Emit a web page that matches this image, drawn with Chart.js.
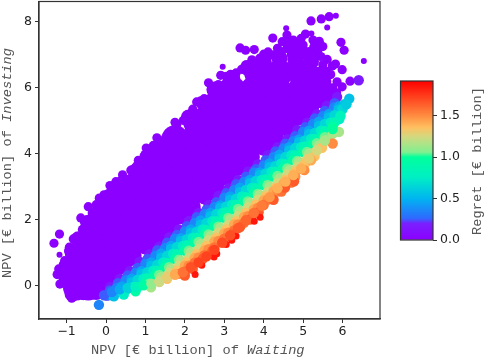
<!DOCTYPE html>
<html>
<head>
<meta charset="utf-8">
<script src="https://cdn.jsdelivr.net/npm/chart.js@4"></script>
<style>
  html,body{ margin:0; padding:0; background:#fff; }
  canvas{ position:absolute; left:0; top:0; }
</style>
</head>
<body>
<canvas id="scatter" width="484" height="357"></canvas>
<canvas id="bar" width="484" height="357"></canvas>
<script>
const xTicks = [-1,0,1,2,3,4,5,6];
const yTicks = [0,2,4,6,8];
const regretTicks = [0,0.5,1,1.5];
const regretMax = 1.92;

// colour bar stops: [regret, colour]
const colorStops = [
  [0,'#8b00ff'],[0.2,'#7a20ff'],[0.26,'#2f68ff'],[0.5,'#00b4f0'],[0.76,'#00f0c4'],
  [1.0,'#00ff9c'],[1.06,'#80f090'],[1.24,'#d0da80'],[1.36,'#ffbf60'],[1.5,'#ff8c40'],[1.92,'#ff0000']
];

// purple mass, rows of wide marks
const coreRowY = [-0.05,0.45,0.95,1.45,1.95,2.45,2.95,3.45,3.95,4.45,4.95,5.45,5.95,6.45];
const coreRowX = [
  [-0.75,-0.45],
  [-0.8,-0.25,0.03],
  [-0.55,0.05,0.5],
  [-0.35,0.25,0.85,1.03],
  [-0.15,0.45,1.05,1.53],
  [0.15,0.65,1.25,1.85,2.03],
  [0.5,0.95,1.55,2.15,2.53],
  [0.95,1.35,1.95,2.55,3.03],
  [1.35,1.85,2.45,3.05,3.53],
  [1.75,2.25,2.85,3.45,4.03],
  [2.3,2.75,3.35,3.95,4.53],
  [2.75,3.25,3.85,4.45,5.03],
  [3.2,3.75,4.35,4.95,5.3],
  [3.85,4.4,4.95]
];

// medium purple marks just inside the outline
const fillX = [0.1,0.4,0.7,1,1.3,1.6,1.9,2.2,2.5,2.8,3.1,3.4,3.7,4,4.3,4.6,4.9,5.2,5.45,
  -1,-1,-0.85,-0.7,-0.45,-0.15,0.1,0.5,0.75,1.05,1.4,1.8,2.1,2.5,2.75,3.2,3.6,4,4.4,4.8,5.2,5.45,5.55,5.65,5.3,
  -0.85,-0.55,-0.25,-0.05,0.1];
const fillY = [0.3,0.58,0.9,1.18,1.5,1.78,2.1,2.38,2.7,2.98,3.3,3.58,3.9,4.18,4.5,4.78,5.1,5.38,5.62,
  0.2,0.6,1,1.4,1.9,2.3,2.7,3.1,3.45,3.9,4.2,4.6,5.1,5.5,5.95,6.3,6.6,6.8,6.9,6.85,6.8,6.4,6,5.7,6.4,
  -0.25,-0.2,-0.2,-0.15,-0.05];

// purple marks that make up the outline and the stragglers
const edgeX = [3.4,2.91,3.16,3.44,2.6,2.49,2.3,1.96,1.79,1.29,1.02,0.82,0.63,0.42,0.1,-0.17,-0.45,-0.64,
  -1.18,-1.32,-0.93,-0.83,-1.2,-1.24,-1.17,-0.87,-0.58,5.66,5.46,5.2,4.23,4.59,5.06,
  4.47,4.91,5.41,5.96,6.04,4.72,5.27,3.54,3.76,4,4.11,4.34,4.59,5.02,5.36,5.61,5.82,5.74,5.99,6.19,5.99,5.86,
  -1.05,-1.05,-0.95,-0.72,-0.6,-0.55,-0.35,-0.25,-0.05,0.25,0.4,0.7,0.9,1.1,1.2,1.5,1.7,1.75,2.1,2.2,2.4,2.65,2.7,2.85,3.05,3.3,3.55,3.7,3.9,
  4.2,4.45,4.7,4.85,5.1,5.25,5.45,5.5,5.6,5.7,5.6,5.75,5.85,5.8,5.5,4.6,4.35,4.85,5,5.25,5.35,5.4,5.15,4.75,4.95,5];
const edgeY = [7.21,6.38,6.41,6.56,6.15,5.67,5.57,5.01,4.86,4.48,4.17,3.8,3.5,3.36,3.03,2.65,2.39,2.05,
  1.56,1.28,1.16,1.41,0.5,0.33,0.04,-0.39,-0.31,8.16,8.09,8.03,7.51,7.6,7.63,
  7.4,7.37,7.41,7.38,7.14,7.24,7.24,7.14,7.16,7.02,7.09,7.06,7.19,6.99,7.09,6.86,6.72,6.66,6.55,6.2,6.03,6.18,
  0.75,0.3,1.05,1.25,1.7,1.95,2.2,2.45,2.75,3.15,3.2,3.45,3.75,4,4.25,4.45,4.7,4.95,5.15,5.35,5.6,5.65,5.95,6.1,6.35,6.45,6.7,6.85,6.9,
  7,7.1,7,7.1,6.95,6.9,6.95,6.7,6.5,6.4,6.2,6,5.85,5.75,7.25,7.4,7.2,7.2,7.15,7.45,7.35,7.2,7.1,7.45,7.5,7.3];

// smaller purple stragglers
const smallX = [2.96,4.57,5.83,5.61,5.21,6.54,-1.18];
const smallY = [6.64,7.81,8.19,7.83,7.65,6.81,0.93];

// marks along the lower rim of the cloud
const rimX = [-0.05,0.15,0.35,0.55,0.75,0.95,1.15,1.35,1.55,1.75,1.95,2.15,2.35,2.55,2.75,2.95,3.15,3.35,3.55,3.75,3.95,4.15,4.35,4.55,4.75,4.95,5.15,5.35,5.55,5.75,5.95,6.1];
const rimY = [-0.3,-0.2,-0.12,-0.08,-0.05,0,0.05,0.12,0.25,0.33,0.4,0.55,0.7,0.88,1.08,1.3,1.52,1.74,1.98,2.2,2.42,2.68,2.95,3.15,3.35,3.55,3.85,4.1,4.4,4.75,5.15,5.5];
const rimRegret = [0.25,0.35,0.47,0.63,0.8,0.95,1.1,1.23,1.3,1.42,1.58,1.68,1.72,1.72,1.72,1.7,1.68,1.66,1.62,1.58,1.55,1.47,1.4,1.4,1.4,1.4,1.3,1.25,1.15,1,0.8,0.6];

// coloured stripes under the mass, highest regret first
const bandRegret = [1.85,1.65,1.58,1.5,1.42,1.35,1.25,1.15,1.05,0.95,0.85,0.75,0.65,0.55,0.45,0.35,0.25,0.15];
const bandXs = [
  [2.26,2.43,2.74,2.81,3.05,3.19,3.3,3.76,3.91],
  [2,2.2,2.45,2.7,2.95,3.2,3.4,3.65,3.87,4.25,4.54,4.77],
  [2,2.25,2.5,2.75,3,3.25,3.5,3.75,4,4.2,4.45,4.7],
  [1.85,2.1,2.35,2.6,2.85,3.1,3.35,3.6,3.85,4.1,4.35,4.56,4.8,5.03,5.75],
  [1.75,2,2.25,2.5,2.75,3,3.25,3.5,3.75,4,4.25,4.5,4.75,4.95,5.2],
  [1.55,1.8,2.05,2.3,2.55,2.8,3.05,3.3,3.55,3.8,4.05,4.3,4.55,4.8,5.05,5.29,5.48],
  [1.35,1.6,1.85,2.1,2.35,2.6,2.85,3.1,3.35,3.6,3.85,4.1,4.35,4.6,4.85,5.1,5.35],
  [1.14,1.4,1.65,1.9,2.15,2.4,2.65,2.9,3.15,3.4,3.65,3.9,4.15,4.4,4.65,4.9,5.15,5.4,5.6,5.75,5.91],
  [1.1,1.35,1.6,1.85,2.1,2.35,2.6,2.85,3.1,3.35,3.6,3.85,4.1,4.35,4.6,4.85,5.1,5.35,5.55],
  [0.75,1,1.25,1.5,1.75,2,2.25,2.5,2.75,3,3.25,3.5,3.75,4,4.25,4.5,4.75,5,5.25,5.5,5.75],
  [0.8,1.05,1.3,1.55,1.8,2.05,2.3,2.55,2.8,3.05,3.3,3.55,3.8,4.05,4.3,4.55,4.8,5.05,5.3,5.55,5.8],
  [0.45,0.7,0.95,1.2,1.45,1.7,1.95,2.2,2.45,2.7,2.95,3.2,3.45,3.7,3.95,4.2,4.45,4.7,4.95,5.2,5.45,5.7,5.92],
  [0.55,0.8,1.05,1.3,1.55,1.8,2.05,2.3,2.55,2.8,3.05,3.3,3.55,3.8,4.05,4.3,4.55,4.8,5.05,5.3,5.55,5.8,6],
  [0.2,0.42,0.65,0.9,1.15,1.4,1.65,1.9,2.15,2.4,2.65,2.9,3.15,3.4,3.65,3.9,4.15,4.4,4.65,4.9,5.15,5.4,5.65,5.9,6.05,6.17,5.99],
  [0.15,0.4,0.65,0.9,1.15,1.4,1.65,1.9,2.15,2.4,2.65,2.9,3.15,3.4,3.65,3.9,4.15,4.4,4.65,4.9,5.15,5.4,5.65,5.9],
  [-0.18,0.05,0.27,0.5,0.75,1,1.25,1.5,1.75,2,2.25,2.5,2.75,3,3.25,3.5,3.75,4,4.25,4.5,4.75,5,5.25,5.5,5.78],
  [0.1,0.3,0.55,0.8,1.05,1.3,1.55,1.8,2.05,2.3,2.55,2.8,3.05,3.3,3.55,3.8,4.05,4.3,4.55,4.8,5.05,5.3,5.55,5.8],
  [0.02,0.1,0.35,0.6,0.85,1.1,1.35,1.6,1.85,2.1,2.35,2.6,2.85,3.1,3.35,3.6,3.85,4.1,4.35,4.6,4.85,5.1,5.35,5.6,5.86,6.41]
];
const bandYs = [
  [0.33,0.61,0.86,0.96,1.24,1.37,1.5,1.95,2.07],
  [0.3,0.5,0.8,1.05,1.3,1.55,1.77,2,2.22,2.6,2.97,3.16],
  [0.42,0.69,0.92,1.15,1.42,1.67,1.9,2.17,2.44,2.62,2.85,3.12],
  [0.35,0.6,0.85,1.1,1.35,1.6,1.85,2.1,2.35,2.6,2.85,3.05,3.3,3.5,4.31],
  [0.33,0.6,0.83,1.06,1.33,1.58,1.85,2.08,2.31,2.58,2.85,3.08,3.31,3.53,3.8],
  [0.2,0.45,0.7,0.95,1.2,1.45,1.7,1.95,2.2,2.45,2.7,2.95,3.2,3.45,3.7,3.92,4.18],
  [0.1,0.37,0.6,0.83,1.1,1.37,1.6,1.83,2.1,2.37,2.6,2.83,3.1,3.37,3.6,3.83,4.1],
  [-0.06,0.25,0.5,0.75,1,1.25,1.5,1.75,2,2.25,2.5,2.75,3,3.25,3.5,3.75,4,4.25,4.4,4.6,4.66],
  [0.05,0.32,0.55,0.78,1.05,1.32,1.55,1.78,2.05,2.32,2.55,2.78,3.05,3.32,3.55,3.78,4.05,4.32,4.5],
  [-0.18,0.05,0.3,0.55,0.8,1.05,1.3,1.55,1.8,2.05,2.3,2.55,2.8,3.05,3.3,3.55,3.8,4.05,4.3,4.55,4.82],
  [-0.05,0.22,0.45,0.68,0.95,1.22,1.45,1.68,1.95,2.22,2.45,2.68,2.95,3.22,3.45,3.68,3.95,4.22,4.45,4.68,4.95],
  [-0.28,-0.05,0.2,0.45,0.7,0.96,1.2,1.45,1.7,1.95,2.2,2.45,2.7,2.96,3.2,3.45,3.7,3.95,4.2,4.45,4.7,4.95,5.05],
  [-0.1,0.17,0.4,0.63,0.9,1.17,1.4,1.63,1.9,2.17,2.4,2.63,2.9,3.17,3.4,3.63,3.9,4.17,4.4,4.63,4.9,5.17,5.35],
  [-0.33,-0.14,0.1,0.35,0.6,0.84,1.11,1.35,1.6,1.84,2.1,2.35,2.6,2.84,3.11,3.35,3.6,3.85,4.1,4.35,4.6,4.84,5.1,5.34,5.5,5.67,5.37],
  [-0.3,-0.03,0.2,0.43,0.7,0.97,1.2,1.43,1.7,1.97,2.2,2.43,2.7,2.97,3.2,3.43,3.7,3.97,4.2,4.43,4.7,4.97,5.2,5.43],
  [-0.59,-0.3,-0.08,0.16,0.38,0.66,0.9,1.14,1.42,1.64,1.9,2.16,2.38,2.66,2.9,3.14,3.42,3.64,3.9,4.16,4.38,4.66,4.9,5.14,5.4],
  [-0.15,0.07,0.3,0.53,0.8,1.07,1.3,1.53,1.8,2.07,2.3,2.53,2.8,3.07,3.3,3.53,3.8,4.07,4.3,4.53,4.8,5.07,5.3,5.53],
  [-0.31,-0.05,0.2,0.44,0.72,0.95,1.18,1.46,1.7,1.96,2.2,2.44,2.72,2.94,3.2,3.46,3.68,3.96,4.2,4.44,4.72,4.94,5.2,5.46,5.72,6.23]
];

function toPoints(xs, ys){ return xs.map((x,i)=>({ x, y: ys[i] })); }

function hexToRgb(h){ return [1,3,5].map(i=>parseInt(h.substr(i,2),16)); }

function colorFor(v){
  for(let i=1;i<colorStops.length;i++){
    const [a,ca] = colorStops[i-1], [b,cb] = colorStops[i];
    if(v <= b){
      const t = (v-a)/(b-a), p = hexToRgb(ca), q = hexToRgb(cb);
      return `rgb(${p.map((c,k)=>Math.round(c+(q[k]-c)*t)).join(',')})`;
    }
  }
  return colorStops[colorStops.length-1][1];
}

function purpleSet(data, radius){
  return { data, pointRadius:radius, pointHoverRadius:radius, pointBorderWidth:0, backgroundColor:colorFor(0), borderColor:colorFor(0) };
}

const datasets = [];
datasets.push({ data: toPoints(rimX, rimY), pointRadius:5.2, pointBorderWidth:0, backgroundColor: rimRegret.map(colorFor) });
bandRegret.forEach((r,i)=>{
  datasets.push({ data: toPoints(bandXs[i], bandYs[i]), pointRadius: r>1.8 ? 3.5 : 5.2, pointBorderWidth:0, backgroundColor: colorFor(r), borderColor: colorFor(r) });
});
const corePoints = [];
coreRowY.forEach((y,i)=> coreRowX[i].forEach(x=> corePoints.push({ x, y })));
datasets.push(purpleSet(corePoints, 13.5));
datasets.push(purpleSet(toPoints(fillX, fillY), 8));
datasets.push(purpleSet(toPoints(edgeX, edgeY), 4.6));
datasets.push(purpleSet(toPoints(smallX, smallY), 3));

const labelFont = '13.7px "Liberation Mono"';
const labelColor = '#555';

function noScalePadding(s){ s.paddingTop = 0; s.paddingBottom = 0; s.paddingLeft = 0; s.paddingRight = 0; }

// axis labels mix roman and italic, so they are drawn by hand
const axisText = {
  id:'axisText',
  afterDraw(chart){
    const { ctx, chartArea:a } = chart;
    ctx.save();
    ctx.strokeStyle = '#333'; ctx.lineWidth = 1.2;
    ctx.strokeRect(a.left, a.top, a.right-a.left, a.bottom-a.top);
    ctx.fillStyle = labelColor; ctx.textBaseline = 'middle'; ctx.textAlign = 'left';
    ctx.font = labelFont;
    ctx.fillText('NPV [€ billion] of ', 91, 350);
    const w = ctx.measureText('NPV [€ billion] of ').width;
    ctx.font = 'italic ' + labelFont;
    ctx.fillText('Waiting', 91+w, 350);
    ctx.translate(7, 278); ctx.rotate(-Math.PI/2);
    ctx.font = labelFont;
    ctx.fillText('NPV [€ billion] of ', 0, 0);
    ctx.font = 'italic ' + labelFont;
    ctx.fillText('Investing', w, 0);
    ctx.restore();
  }
};

new Chart(document.getElementById('scatter'), {
  type:'scatter',
  data:{ datasets },
  plugins:[axisText],
  options:{
    responsive:false, animation:false, events:[],
    layout:{ autoPadding:false, padding:{ left:0, top:1.5, right:104, bottom:0 } },
    plugins:{ legend:{ display:false }, tooltip:{ enabled:false } },
    scales:{
      x:{
        type:'linear', min:-1.7, max:6.95,
        afterBuildTicks(s){ s.ticks = xTicks.map(value=>({ value })); },
        afterFit(s){ s.height = 38; noScalePadding(s); },
        grid:{ drawOnChartArea:false, tickLength:4, tickColor:'#333' },
        border:{ color:'#333', width:1.2 },
        ticks:{ color:'#222', padding:1, maxRotation:0, font:{ family:'DejaVu Sans', size:12.5 }, callback:v=>String(v).replace('-','\u2212') }
      },
      y:{
        type:'linear', min:-1.02, max:8.62,
        afterBuildTicks(s){ s.ticks = yTicks.map(value=>({ value })); },
        afterFit(s){ s.width = 39; noScalePadding(s); },
        grid:{ drawOnChartArea:false, tickLength:4, tickColor:'#333' },
        border:{ color:'#333', width:1.2 },
        ticks:{ color:'#222', padding:3, font:{ family:'DejaVu Sans', size:12.5 }, callback:v=>String(v) }
      }
    }
  }
});

const barText = {
  id:'barText',
  afterDraw(chart){
    const { ctx, chartArea:a } = chart;
    ctx.save();
    ctx.strokeStyle = '#333'; ctx.lineWidth = 1.2;
    ctx.strokeRect(a.left, a.top, a.right-a.left, a.bottom-a.top);
    ctx.fillStyle = labelColor; ctx.font = labelFont; ctx.textBaseline = 'middle'; ctx.textAlign = 'center';
    ctx.translate(477, 161); ctx.rotate(-Math.PI/2);
    ctx.fillText('Regret [€ billion]', 0, 0);
    ctx.restore();
  }
};

new Chart(document.getElementById('bar'), {
  type:'bar',
  data:{
    labels:['Regret'],
    datasets:[{
      data:[[0, regretMax]],
      barPercentage:1, categoryPercentage:1, borderWidth:0,
      backgroundColor(c){
        const a = c.chart.chartArea;
        if(!a) return colorFor(0);
        const g = c.chart.ctx.createLinearGradient(0, a.bottom, 0, a.top);
        colorStops.forEach(([v,col])=> g.addColorStop(v/regretMax, col));
        return g;
      }
    }]
  },
  plugins:[barText],
  options:{
    responsive:false, animation:false, events:[],
    layout:{ autoPadding:false, padding:{ left:400.5, top:81, right:0, bottom:117 } },
    plugins:{ legend:{ display:false }, tooltip:{ enabled:false } },
    scales:{
      x:{ display:false },
      y:{
        position:'right', min:0, max:regretMax,
        afterBuildTicks(s){ s.ticks = regretTicks.map(value=>({ value })); },
        afterFit(s){ s.width = 51; noScalePadding(s); },
        grid:{ drawOnChartArea:false, tickLength:4, tickColor:'#333' },
        border:{ display:false },
        ticks:{ color:'#222', padding:3, font:{ family:'DejaVu Sans', size:12.5 }, callback:v=>v.toFixed(1) }
      }
    }
  }
});
</script>
</body>
</html>
